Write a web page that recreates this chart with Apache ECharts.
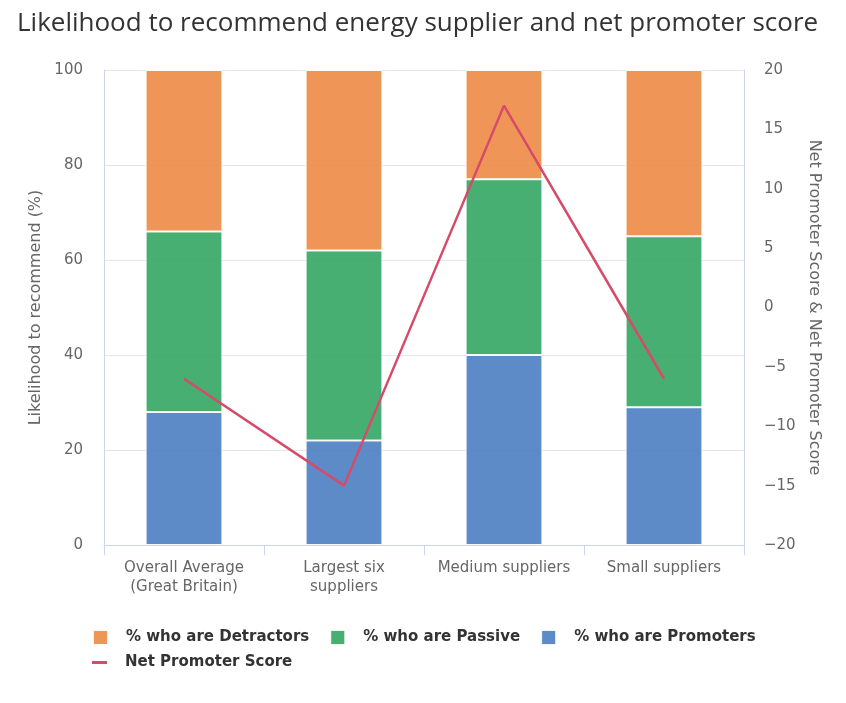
<!DOCTYPE html>
<html>
<head>
<meta charset="utf-8">
<script src="https://cdn.jsdelivr.net/npm/echarts@6/dist/echarts.min.js"></script>
<style>html,body{margin:0;padding:0;background:#fff}#c{width:846px;height:703px}</style>
</head>
<body>
<div id="c"></div>
<script>
const categories = ["Overall Average\n(Great Britain)", "Largest six\nsuppliers", "Medium suppliers", "Small suppliers"];
const promoters = [28, 22, 40, 29];
const passive = [38, 40, 37, 36];
const detractors = [34, 38, 23, 35];
const netPromoterScore = [-6, -15, 17, -6];

const chart = echarts.init(document.getElementById('c'));
const font = 'DejaVu Sans';
const axisCol = '#ccd6eb';
const minus = v => String(v).replace('-', '\u2212');
chart.setOption({
  animation: false,
  textStyle: { fontFamily: font },
  title: {
    text: 'Likelihood to recommend energy supplier and net promoter score',
    left: 12, top: 6,
    textStyle: { fontFamily: 'Open Sans', fontSize: 26, fontWeight: 'normal', color: '#333' }
  },
  legend: [
    {
      left: 87, top: 624, width: 740,
      itemWidth: 15, itemHeight: 15, itemGap: 20,
      textStyle: { fontFamily: font, fontSize: 15, fontWeight: 'bold', color: '#333', padding: [0, 0, 0, 13] },
      data: [
        { name: '% who are Detractors', icon: 'rect' },
        { name: '% who are Passive', icon: 'rect' },
        { name: '% who are Promoters', icon: 'rect' }
      ]
    },
    {
      left: 87, top: 650,
      itemWidth: 15, itemHeight: 3, itemGap: 20,
      textStyle: { fontFamily: font, fontSize: 15, fontWeight: 'bold', color: '#333', padding: [0, 0, 0, 13] },
      data: [{ name: 'Net Promoter Score', icon: 'rect' }]
    }
  ],
  grid: { left: 104, right: 102, top: 70, bottom: 158 },
  xAxis: {
    type: 'category', data: categories,
    axisLine: { lineStyle: { color: axisCol } },
    axisTick: { show: true, interval: 0, length: 10, lineStyle: { color: axisCol } },
    axisLabel: { interval: 0, color: '#666', fontSize: 15, lineHeight: 19, margin: 14, fontFamily: font }
  },
  yAxis: [
    {
      type: 'value', min: 0, max: 100, interval: 20,
      name: 'Likelihood to recommend (%)', nameLocation: 'middle', nameGap: 60,
      nameTextStyle: { color: '#666', fontSize: 16, fontFamily: font },
      axisLine: { show: true, lineStyle: { color: axisCol } },
      splitLine: { lineStyle: { color: '#e6e6e6' } },
      axisLabel: { color: '#666', fontSize: 15, margin: 21 }
    },
    {
      type: 'value', min: -20, max: 20, interval: 5, position: 'right',
      name: 'Net Promoter Score & Net Promoter Score', nameLocation: 'middle', nameGap: 59, nameRotate: -90,
      nameTextStyle: { color: '#666', fontSize: 16, fontFamily: font },
      axisLine: { show: true, lineStyle: { color: axisCol } },
      splitLine: { show: false },
      axisLabel: { color: '#666', fontSize: 15, margin: 20, formatter: minus }
    }
  ],
  series: [
    {
      name: '% who are Promoters', type: 'bar', stack: 's', data: promoters, barWidth: '48%',
      itemStyle: { color: '#4a7ec2', opacity: 0.9, borderColor: '#fff', borderWidth: 1 }
    },
    {
      name: '% who are Passive', type: 'bar', stack: 's', data: passive,
      itemStyle: { color: '#34a664', opacity: 0.9, borderColor: '#fff', borderWidth: 1 }
    },
    {
      name: '% who are Detractors', type: 'bar', stack: 's', data: detractors,
      itemStyle: { color: '#ee8a46', opacity: 0.9, borderColor: '#fff', borderWidth: 1 }
    },
    {
      name: 'Net Promoter Score', type: 'line', yAxisIndex: 1, data: netPromoterScore,
      showSymbol: false, symbol: 'none', z: 5,
      lineStyle: { color: '#d64a6a', width: 2.5 },
      itemStyle: { color: '#d64a6a' }
    }
  ]
});
</script>
</body>
</html>
